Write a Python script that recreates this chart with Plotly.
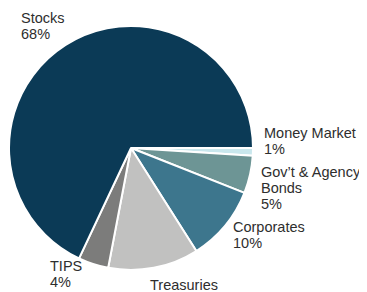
import plotly.graph_objects as go

categories = ["Money Market", "Gov’t & Agency Bonds", "Corporates", "Treasuries", "TIPS", "Stocks"]
values = [1, 5, 10, 12, 4, 68]
colors = ["#c9e7ed", "#6d9595", "#3d768d", "#c1c1c0", "#7c7c7b", "#0b3a56"]

# label lines for each slice (as printed in the chart)
label_lines = [
    ["Money Market", "1%"],
    ["Gov’t & Agency", "Bonds", "5%"],
    ["Corporates", "10%"],
    ["Treasuries"],
    ["TIPS", "4%"],
    ["Stocks", "68%"],
]
# label anchor in window pixels (left x, cap-top y of first line)
label_pos = [(264, 128), (261, 167), (233, 222), (150, 280), (50, 261), (21, 13)]
line_step = 16

OFF = 8  # page body margin
W, H = 367 - OFF, 292 - OFF
cx, cy, r = 131 - OFF, 148 - OFF, 122

fig = go.Figure(go.Pie(
    labels=categories, values=values, sort=False, direction="clockwise",
    rotation=90, marker=dict(colors=colors, line=dict(color="white", width=2)),
    textinfo="none", hoverinfo="label+percent",
    domain=dict(x=[(cx - r) / W, (cx + r) / W], y=[(H - cy - r) / H, (H - cy + r) / H]),
))

anns = []
for lines, (lx, ly) in zip(label_lines, label_pos):
    for i, t in enumerate(lines):
        top = ly - OFF + i * line_step - 4
        anns.append(dict(text=t, x=(lx - OFF - 1) / W, y=1 - top / H, xref="paper", yref="paper",
                         xanchor="left", yanchor="top", showarrow=False, align="left",
                         borderpad=0,
                         font=dict(family="Liberation Sans, Arial, sans-serif", size=14.5, color="#2e2e2e")))

fig.update_layout(width=W, height=H, margin=dict(l=0, r=0, t=0, b=0), showlegend=False,
                  paper_bgcolor="white", plot_bgcolor="white", annotations=anns)
fig.write_html("out.html")
